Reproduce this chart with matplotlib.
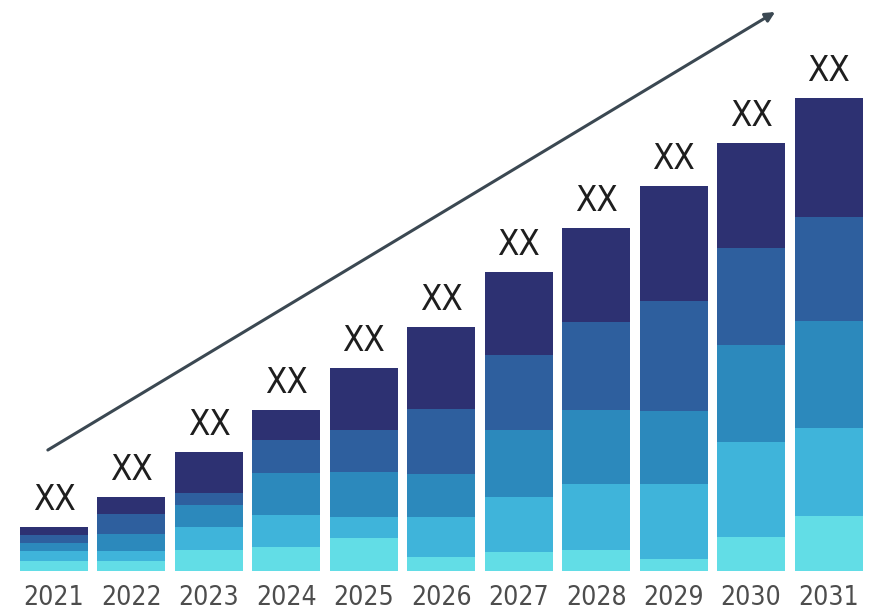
import matplotlib
matplotlib.use("Agg")
from matplotlib import pyplot as plt
import numpy as np

# years and stacked segment values (bottom -> top)
years = ["2021", "2022", "2023", "2024", "2025", "2026", "2027", "2028", "2029", "2030", "2031"]
seg1 = [10, 10, 21, 24, 33, 14, 19, 21, 12, 34, 55]    # lightest cyan
seg2 = [10, 10, 23, 32, 21, 40, 55, 66, 75, 95, 88]
seg3 = [8, 17, 22, 42, 45, 43, 67, 74, 73, 97, 107]
seg4 = [8, 20, 12, 33, 42, 65, 75, 88, 110, 97, 104]
seg5 = [8, 17, 41, 30, 62, 82, 83, 94, 115, 105, 119]  # dark navy top
bar_labels = ["XX"] * len(years)

colors = ["#62dde6", "#3fb4da", "#2c89bc", "#2e5f9e", "#2d3172"]

# trend arrow endpoints (data coords)
arrow_start = (-0.08, 121)
arrow_end = (9.31, 559)

plt.rcParams["font.family"] = ["DejaVu Sans"]
plt.rcParams["font.stretch"] = "condensed"

fig = plt.figure(figsize=(8.75, 6.14), dpi=100)
ax = fig.add_axes([0.0175, 0.070, 0.9737, 0.930])

x = np.arange(len(years))
bottom = np.zeros(len(years))
for seg, c in zip([seg1, seg2, seg3, seg4, seg5], colors):
    ax.bar(x, seg, bottom=bottom, width=0.878, color=c, edgecolor="none")
    bottom += np.array(seg)

for xi, top, lab in zip(x, bottom, bar_labels):
    ax.annotate(lab, (xi, top), xytext=(0, 7), textcoords="offset points",
                ha="center", va="bottom", fontsize=25, color="#1e1e1e")

ax.annotate("", xy=arrow_end, xytext=arrow_start,
            arrowprops=dict(arrowstyle="-|>", color="#3b4852", lw=2.2,
                            mutation_scale=14, shrinkA=0, shrinkB=0))

ax.set_xlim(-0.5, len(years) - 0.5)
ax.set_ylim(0, 571)
ax.set_xticks(x)
ax.set_xticklabels(years, fontsize=19, color="#4d4d4d")
ax.tick_params(axis="x", length=0, pad=10)
ax.set_yticks([])
for s in ax.spines.values():
    s.set_visible(False)

fig.savefig("out.png", dpi=100)
